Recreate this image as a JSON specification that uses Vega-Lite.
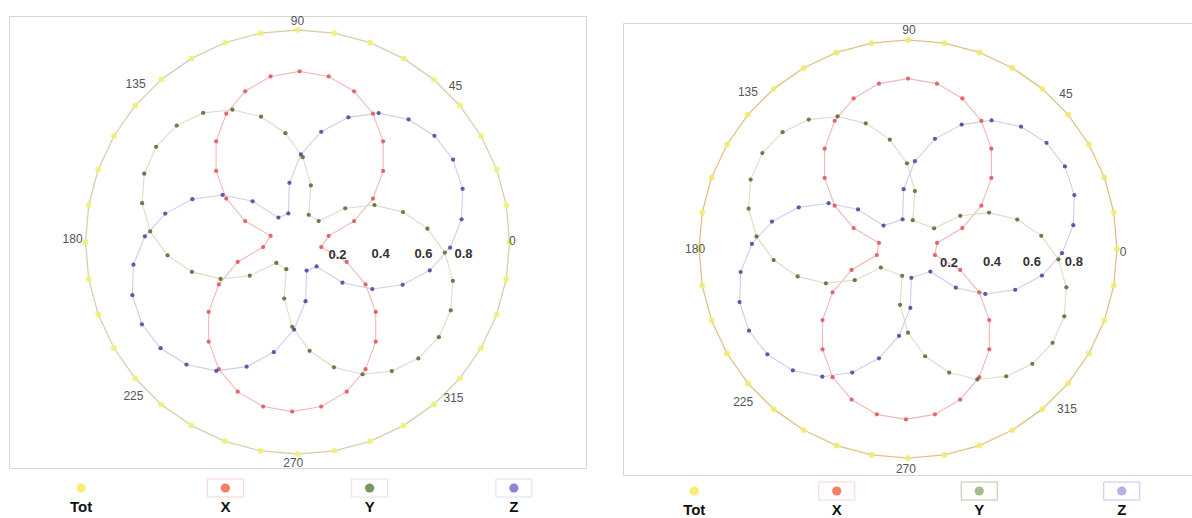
{
"$schema": "https://vega.github.io/schema/vega-lite/v6.json",
"padding": {"left": 8, "top": 14, "right": 0, "bottom": 0},
"config": {"font": "Liberation Sans", "view": {"stroke": "#d6d6d6"}},
"resolve": {"scale": {"fill": "independent", "stroke": "independent", "x": "independent", "y": "independent"}},
"datasets": {
"tot": [
{"i":0,"x":1,"y":0},{"i":1,"x":0.985,"y":0.174},{"i":2,"x":0.94,"y":0.342},{"i":3,"x":0.866,"y":0.5},{"i":4,"x":0.766,"y":0.643},{"i":5,"x":0.643,"y":0.766},{"i":6,"x":0.5,"y":0.866},{"i":7,"x":0.342,"y":0.94},{"i":8,"x":0.174,"y":0.985},{"i":9,"x":0,"y":1},{"i":10,"x":-0.174,"y":0.985},{"i":11,"x":-0.342,"y":0.94},{"i":12,"x":-0.5,"y":0.866},{"i":13,"x":-0.643,"y":0.766},{"i":14,"x":-0.766,"y":0.643},{"i":15,"x":-0.866,"y":0.5},{"i":16,"x":-0.94,"y":0.342},{"i":17,"x":-0.985,"y":0.174},{"i":18,"x":-1,"y":0},{"i":19,"x":-0.985,"y":-0.174},{"i":20,"x":-0.94,"y":-0.342},{"i":21,"x":-0.866,"y":-0.5},{"i":22,"x":-0.766,"y":-0.643},{"i":23,"x":-0.643,"y":-0.766},{"i":24,"x":-0.5,"y":-0.866},{"i":25,"x":-0.342,"y":-0.94},{"i":26,"x":-0.174,"y":-0.985},{"i":27,"x":0,"y":-1},{"i":28,"x":0.174,"y":-0.985},{"i":29,"x":0.342,"y":-0.94},{"i":30,"x":0.5,"y":-0.866},{"i":31,"x":0.643,"y":-0.766},{"i":32,"x":0.766,"y":-0.643},{"i":33,"x":0.866,"y":-0.5},{"i":34,"x":0.94,"y":-0.342},{"i":35,"x":0.985,"y":-0.174}
],
"L": [
{"s":"X","i":0,"x":0.147,"y":0.029},{"s":"X","i":1,"x":0.267,"y":0.099},{"s":"X","i":2,"x":0.356,"y":0.205},{"s":"X","i":3,"x":0.404,"y":0.335},{"s":"X","i":4,"x":0.404,"y":0.475},{"s":"X","i":5,"x":0.356,"y":0.605},{"s":"X","i":6,"x":0.267,"y":0.711},{"s":"X","i":7,"x":0.147,"y":0.781},{"s":"X","i":8,"x":0.01,"y":0.805},{"s":"X","i":9,"x":-0.127,"y":0.781},{"s":"X","i":10,"x":-0.247,"y":0.711},{"s":"X","i":11,"x":-0.336,"y":0.605},{"s":"X","i":12,"x":-0.384,"y":0.475},{"s":"X","i":13,"x":-0.384,"y":0.335},{"s":"X","i":14,"x":-0.336,"y":0.205},{"s":"X","i":15,"x":-0.247,"y":0.099},{"s":"X","i":16,"x":-0.127,"y":0.029},
{"s":"X","i":17,"x":-0.162,"y":-0.024},{"s":"X","i":18,"x":-0.282,"y":-0.094},{"s":"X","i":19,"x":-0.371,"y":-0.2},{"s":"X","i":20,"x":-0.419,"y":-0.33},{"s":"X","i":21,"x":-0.419,"y":-0.47},{"s":"X","i":22,"x":-0.371,"y":-0.6},{"s":"X","i":23,"x":-0.282,"y":-0.706},{"s":"X","i":24,"x":-0.162,"y":-0.776},{"s":"X","i":25,"x":-0.025,"y":-0.8},{"s":"X","i":26,"x":0.112,"y":-0.776},{"s":"X","i":27,"x":0.232,"y":-0.706},{"s":"X","i":28,"x":0.321,"y":-0.6},{"s":"X","i":29,"x":0.369,"y":-0.47},{"s":"X","i":30,"x":0.369,"y":-0.33},{"s":"X","i":31,"x":0.321,"y":-0.2},{"s":"X","i":32,"x":0.232,"y":-0.094},{"s":"X","i":33,"x":0.112,"y":-0.024},
{"s":"Z","i":0,"x":0.09,"y":-0.115},{"s":"Z","i":1,"x":0.212,"y":-0.192},{"s":"Z","i":2,"x":0.353,"y":-0.222},{"s":"Z","i":3,"x":0.496,"y":-0.202},{"s":"Z","i":4,"x":0.624,"y":-0.134},{"s":"Z","i":5,"x":0.72,"y":-0.027},{"s":"Z","i":6,"x":0.774,"y":0.107},{"s":"Z","i":7,"x":0.779,"y":0.251},{"s":"Z","i":8,"x":0.734,"y":0.388},{"s":"Z","i":9,"x":0.646,"y":0.501},{"s":"Z","i":10,"x":0.524,"y":0.578},{"s":"Z","i":11,"x":0.383,"y":0.608},{"s":"Z","i":12,"x":0.24,"y":0.588},{"s":"Z","i":13,"x":0.112,"y":0.52},{"s":"Z","i":14,"x":0.016,"y":0.413},{"s":"Z","i":15,"x":-0.038,"y":0.279},{"s":"Z","i":16,"x":-0.043,"y":0.135},
{"s":"Z","i":17,"x":-0.09,"y":0.115},{"s":"Z","i":18,"x":-0.212,"y":0.192},{"s":"Z","i":19,"x":-0.353,"y":0.222},{"s":"Z","i":20,"x":-0.496,"y":0.202},{"s":"Z","i":21,"x":-0.624,"y":0.134},{"s":"Z","i":22,"x":-0.72,"y":0.027},{"s":"Z","i":23,"x":-0.774,"y":-0.107},{"s":"Z","i":24,"x":-0.779,"y":-0.251},{"s":"Z","i":25,"x":-0.734,"y":-0.388},{"s":"Z","i":26,"x":-0.646,"y":-0.501},{"s":"Z","i":27,"x":-0.524,"y":-0.578},{"s":"Z","i":28,"x":-0.383,"y":-0.608},{"s":"Z","i":29,"x":-0.24,"y":-0.588},{"s":"Z","i":30,"x":-0.112,"y":-0.52},{"s":"Z","i":31,"x":-0.016,"y":-0.413},{"s":"Z","i":32,"x":0.038,"y":-0.279},{"s":"Z","i":33,"x":0.043,"y":-0.135},
{"s":"Y","i":0,"x":-0.053,"y":-0.128},{"s":"Y","i":1,"x":-0.063,"y":-0.267},{"s":"Y","i":2,"x":-0.025,"y":-0.4},{"s":"Y","i":3,"x":0.057,"y":-0.513},{"s":"Y","i":4,"x":0.172,"y":-0.591},{"s":"Y","i":5,"x":0.307,"y":-0.624},{"s":"Y","i":6,"x":0.445,"y":-0.609},{"s":"Y","i":7,"x":0.57,"y":-0.549},{"s":"Y","i":8,"x":0.667,"y":-0.449},{"s":"Y","i":9,"x":0.723,"y":-0.322},{"s":"Y","i":10,"x":0.733,"y":-0.183},{"s":"Y","i":11,"x":0.695,"y":-0.05},{"s":"Y","i":12,"x":0.613,"y":0.063},{"s":"Y","i":13,"x":0.498,"y":0.141},{"s":"Y","i":14,"x":0.363,"y":0.174},{"s":"Y","i":15,"x":0.225,"y":0.159},{"s":"Y","i":16,"x":0.1,"y":0.099},
{"s":"Y","i":17,"x":0.053,"y":0.128},{"s":"Y","i":18,"x":0.063,"y":0.267},{"s":"Y","i":19,"x":0.025,"y":0.4},{"s":"Y","i":20,"x":-0.057,"y":0.513},{"s":"Y","i":21,"x":-0.172,"y":0.591},{"s":"Y","i":22,"x":-0.307,"y":0.624},{"s":"Y","i":23,"x":-0.445,"y":0.609},{"s":"Y","i":24,"x":-0.57,"y":0.549},{"s":"Y","i":25,"x":-0.667,"y":0.449},{"s":"Y","i":26,"x":-0.723,"y":0.322},{"s":"Y","i":27,"x":-0.733,"y":0.183},{"s":"Y","i":28,"x":-0.695,"y":0.05},{"s":"Y","i":29,"x":-0.613,"y":-0.063},{"s":"Y","i":30,"x":-0.498,"y":-0.141},{"s":"Y","i":31,"x":-0.363,"y":-0.174},{"s":"Y","i":32,"x":-0.225,"y":-0.159},{"s":"Y","i":33,"x":-0.1,"y":-0.099}
],
"R": [
{"s":"X","i":0,"x":0.139,"y":0.029},{"s":"X","i":1,"x":0.26,"y":0.1},{"s":"X","i":2,"x":0.351,"y":0.207},{"s":"X","i":3,"x":0.399,"y":0.34},{"s":"X","i":4,"x":0.399,"y":0.48},{"s":"X","i":5,"x":0.351,"y":0.613},{"s":"X","i":6,"x":0.26,"y":0.72},{"s":"X","i":7,"x":0.139,"y":0.791},{"s":"X","i":8,"x":0,"y":0.815},{"s":"X","i":9,"x":-0.139,"y":0.791},{"s":"X","i":10,"x":-0.26,"y":0.72},{"s":"X","i":11,"x":-0.351,"y":0.613},{"s":"X","i":12,"x":-0.399,"y":0.48},{"s":"X","i":13,"x":-0.399,"y":0.34},{"s":"X","i":14,"x":-0.351,"y":0.207},{"s":"X","i":15,"x":-0.26,"y":0.1},{"s":"X","i":16,"x":-0.139,"y":0.029},
{"s":"X","i":17,"x":-0.149,"y":-0.029},{"s":"X","i":18,"x":-0.27,"y":-0.1},{"s":"X","i":19,"x":-0.361,"y":-0.207},{"s":"X","i":20,"x":-0.409,"y":-0.34},{"s":"X","i":21,"x":-0.409,"y":-0.48},{"s":"X","i":22,"x":-0.361,"y":-0.613},{"s":"X","i":23,"x":-0.27,"y":-0.72},{"s":"X","i":24,"x":-0.149,"y":-0.791},{"s":"X","i":25,"x":-0.01,"y":-0.815},{"s":"X","i":26,"x":0.129,"y":-0.791},{"s":"X","i":27,"x":0.25,"y":-0.72},{"s":"X","i":28,"x":0.341,"y":-0.613},{"s":"X","i":29,"x":0.389,"y":-0.48},{"s":"X","i":30,"x":0.389,"y":-0.34},{"s":"X","i":31,"x":0.341,"y":-0.207},{"s":"X","i":32,"x":0.25,"y":-0.1},{"s":"X","i":33,"x":0.129,"y":-0.029},
{"s":"Z","i":0,"x":0.107,"y":-0.108},{"s":"Z","i":1,"x":0.229,"y":-0.185},{"s":"Z","i":2,"x":0.37,"y":-0.215},{"s":"Z","i":3,"x":0.513,"y":-0.195},{"s":"Z","i":4,"x":0.641,"y":-0.127},{"s":"Z","i":5,"x":0.737,"y":-0.02},{"s":"Z","i":6,"x":0.791,"y":0.114},{"s":"Z","i":7,"x":0.796,"y":0.258},{"s":"Z","i":8,"x":0.751,"y":0.395},{"s":"Z","i":9,"x":0.663,"y":0.508},{"s":"Z","i":10,"x":0.541,"y":0.585},{"s":"Z","i":11,"x":0.4,"y":0.615},{"s":"Z","i":12,"x":0.257,"y":0.595},{"s":"Z","i":13,"x":0.129,"y":0.527},{"s":"Z","i":14,"x":0.033,"y":0.42},{"s":"Z","i":15,"x":-0.021,"y":0.286},{"s":"Z","i":16,"x":-0.026,"y":0.142},
{"s":"Z","i":17,"x":-0.117,"y":0.112},{"s":"Z","i":18,"x":-0.239,"y":0.189},{"s":"Z","i":19,"x":-0.38,"y":0.219},{"s":"Z","i":20,"x":-0.523,"y":0.199},{"s":"Z","i":21,"x":-0.651,"y":0.131},{"s":"Z","i":22,"x":-0.747,"y":0.024},{"s":"Z","i":23,"x":-0.801,"y":-0.11},{"s":"Z","i":24,"x":-0.806,"y":-0.254},{"s":"Z","i":25,"x":-0.761,"y":-0.391},{"s":"Z","i":26,"x":-0.673,"y":-0.504},{"s":"Z","i":27,"x":-0.551,"y":-0.581},{"s":"Z","i":28,"x":-0.41,"y":-0.611},{"s":"Z","i":29,"x":-0.267,"y":-0.591},{"s":"Z","i":30,"x":-0.139,"y":-0.523},{"s":"Z","i":31,"x":-0.043,"y":-0.416},{"s":"Z","i":32,"x":0.011,"y":-0.282},{"s":"Z","i":33,"x":0.016,"y":-0.138},
{"s":"Y","i":0,"x":-0.028,"y":-0.128},{"s":"Y","i":1,"x":-0.038,"y":-0.267},{"s":"Y","i":2,"x":0,"y":-0.4},{"s":"Y","i":3,"x":0.082,"y":-0.513},{"s":"Y","i":4,"x":0.197,"y":-0.591},{"s":"Y","i":5,"x":0.332,"y":-0.624},{"s":"Y","i":6,"x":0.47,"y":-0.609},{"s":"Y","i":7,"x":0.595,"y":-0.549},{"s":"Y","i":8,"x":0.692,"y":-0.449},{"s":"Y","i":9,"x":0.748,"y":-0.322},{"s":"Y","i":10,"x":0.758,"y":-0.183},{"s":"Y","i":11,"x":0.72,"y":-0.05},{"s":"Y","i":12,"x":0.638,"y":0.063},{"s":"Y","i":13,"x":0.523,"y":0.141},{"s":"Y","i":14,"x":0.388,"y":0.174},{"s":"Y","i":15,"x":0.25,"y":0.159},{"s":"Y","i":16,"x":0.125,"y":0.099},
{"s":"Y","i":17,"x":0.023,"y":0.138},{"s":"Y","i":18,"x":0.033,"y":0.277},{"s":"Y","i":19,"x":-0.005,"y":0.41},{"s":"Y","i":20,"x":-0.087,"y":0.523},{"s":"Y","i":21,"x":-0.202,"y":0.601},{"s":"Y","i":22,"x":-0.337,"y":0.634},{"s":"Y","i":23,"x":-0.475,"y":0.619},{"s":"Y","i":24,"x":-0.6,"y":0.559},{"s":"Y","i":25,"x":-0.697,"y":0.459},{"s":"Y","i":26,"x":-0.753,"y":0.332},{"s":"Y","i":27,"x":-0.763,"y":0.193},{"s":"Y","i":28,"x":-0.725,"y":0.06},{"s":"Y","i":29,"x":-0.643,"y":-0.053},{"s":"Y","i":30,"x":-0.528,"y":-0.131},{"s":"Y","i":31,"x":-0.393,"y":-0.164},{"s":"Y","i":32,"x":-0.255,"y":-0.149},{"s":"Y","i":33,"x":-0.13,"y":-0.089}
],
"labL": [
{"k":"a","t":"90","x":0,"y":1.043},{"k":"a","t":"45","x":0.745,"y":0.736},{"k":"a","t":"0","x":1.014,"y":0.005},{"k":"a","t":"135","x":-0.764,"y":0.745},{"k":"a","t":"180","x":-1.061,"y":0.014},{"k":"a","t":"225","x":-0.774,"y":-0.726},{"k":"a","t":"270","x":-0.02,"y":-1.042},{"k":"a","t":"315","x":0.736,"y":-0.736},
{"k":"r","t":"0.2","x":0.189,"y":-0.061},{"k":"r","t":"0.4","x":0.392,"y":-0.057},{"k":"r","t":"0.6","x":0.594,"y":-0.057},{"k":"r","t":"0.8","x":0.783,"y":-0.057}
],
"labR": [
{"k":"a","t":"90","x":0.005,"y":1.048},{"k":"a","t":"45","x":0.756,"y":0.742},{"k":"a","t":"0","x":1.029,"y":-0.014},{"k":"a","t":"135","x":-0.766,"y":0.751},{"k":"a","t":"180","x":-1.019,"y":0},{"k":"a","t":"225","x":-0.789,"y":-0.732},{"k":"a","t":"270","x":-0.01,"y":-1.053},{"k":"a","t":"315","x":0.761,"y":-0.766},
{"k":"r","t":"0.2","x":0.196,"y":-0.067},{"k":"r","t":"0.4","x":0.402,"y":-0.062},{"k":"r","t":"0.6","x":0.593,"y":-0.062},{"k":"r","t":"0.8","x":0.794,"y":-0.062}
],
"leg": [{"s":"Tot"},{"s":"X"},{"s":"Y"},{"s":"Z"}]
},
"spacing": 35,
"hconcat": [
{
"spacing": 0,
"resolve": {"scale": {"fill": "independent", "stroke": "independent", "x": "independent", "y": "independent"}},
"vconcat": [
{
"width": 577, "height": 452,
"encoding": {
"x": {"field":"x","type":"quantitative","scale":{"domain":[-1.361,1.361],"nice":false,"zero":false},"axis":null},
"y": {"field":"y","type":"quantitative","scale":{"domain":[-1.066,1.066],"nice":false,"zero":false},"axis":null}
},
"layer": [
{"data":{"name":"tot"},"mark":{"type":"line","interpolate":"linear-closed","stroke":"#d4d1ae","strokeWidth":1.3},"encoding":{"order":{"field":"i","type":"quantitative"}}},
{"data":{"name":"tot"},"mark":{"type":"point","filled":true,"size":34,"color":"#f2ef78","opacity":0.9}},
{"data":{"name":"L"},"mark":{"type":"line","interpolate":"linear-closed","strokeWidth":1.1},"encoding":{"order":{"field":"i","type":"quantitative"},"detail":{"field":"s"},"stroke":{"field":"s","type":"nominal","scale":{"domain":["X","Y","Z"],"range":["#f4b7ba","#d9dec9","#cdcded"]},"legend":null}}},
{"data":{"name":"L"},"mark":{"type":"point","filled":true,"size":18,"opacity":0.9,"strokeWidth":0},"encoding":{"fill":{"field":"s","type":"nominal","scale":{"domain":["X","Y","Z"],"range":["#e2585f","#5e6f35","#4f4a9e"]},"legend":null}}},
{"data":{"name":"labL"},"transform":[{"filter":"datum.k == 'a'"}],"mark":{"type":"text","fontSize":12,"color":"#555555"},"encoding":{"text":{"field":"t"}}},
{"data":{"name":"labL"},"transform":[{"filter":"datum.k == 'r'"}],"mark":{"type":"text","fontSize":13,"fontWeight":"bold","color":"#333333"},"encoding":{"text":{"field":"t"}}}
]
},
{
"width": 577, "height": 36, "view": {"stroke": null},
"data": {"name":"leg"},
"encoding": {"x": {"field":"s","type":"nominal","scale":{"domain":["Tot","X","Y","Z"]},"axis":null}},
"layer": [
{"transform":[{"filter":"datum.s != 'Tot'"}],"mark":{"type":"point","shape":"M-1,-0.5H1V0.5H-1Z","size":1296,"filled":false,"strokeWidth":1},"encoding":{"stroke":{"field":"s","type":"nominal","scale":{"domain":["X","Y","Z"],"range":["#f6c4c4","#d8dcc4","#d0d0ee"]},"legend":null}}},
{"mark":{"type":"point","filled":true,"size":85,"strokeWidth":0},"encoding":{"fill":{"field":"s","type":"nominal","scale":{"domain":["Tot","X","Y","Z"],"range":["#f5e43c","#f04a28","#3c6a1c","#5a4ec8"]},"legend":null}}},
{"mark":{"type":"text","dy":19,"fontSize":15,"fontWeight":"bold","color":"#111111"},"encoding":{"text":{"field":"s"}}}
]
}
]
},
{
"spacing": 0,
"resolve": {"scale": {"fill": "independent", "stroke": "independent", "x": "independent", "y": "independent"}},
"vconcat": [
{"width": 570, "height": 6, "view": {"stroke": null}, "data": {"values": [{"s":"spacer"}]}, "mark": {"type":"point","opacity":0}},
{
"width": 570, "height": 452,
"encoding": {
"x": {"field":"x","type":"quantitative","scale":{"domain":[-1.364,1.364],"nice":false,"zero":false},"axis":null},
"y": {"field":"y","type":"quantitative","scale":{"domain":[-1.081,1.081],"nice":false,"zero":false},"axis":null}
},
"layer": [
{"data":{"name":"tot"},"mark":{"type":"line","interpolate":"linear-closed","stroke":"#dcc484","strokeWidth":1.3},"encoding":{"order":{"field":"i","type":"quantitative"}}},
{"data":{"name":"tot"},"mark":{"type":"point","filled":true,"size":34,"color":"#f2ea70","opacity":0.9}},
{"data":{"name":"R"},"mark":{"type":"line","interpolate":"linear-closed","strokeWidth":1.1},"encoding":{"order":{"field":"i","type":"quantitative"},"detail":{"field":"s"},"stroke":{"field":"s","type":"nominal","scale":{"domain":["X","Y","Z"],"range":["#f4b7ba","#d9dec9","#cdcded"]},"legend":null}}},
{"data":{"name":"R"},"mark":{"type":"point","filled":true,"size":18,"opacity":0.9,"strokeWidth":0},"encoding":{"fill":{"field":"s","type":"nominal","scale":{"domain":["X","Y","Z"],"range":["#e2585f","#5e6f35","#4f4a9e"]},"legend":null}}},
{"data":{"name":"labR"},"transform":[{"filter":"datum.k == 'a'"}],"mark":{"type":"text","fontSize":12,"color":"#555555"},"encoding":{"text":{"field":"t"}}},
{"data":{"name":"labR"},"transform":[{"filter":"datum.k == 'r'"}],"mark":{"type":"text","fontSize":13,"fontWeight":"bold","color":"#333333"},"encoding":{"text":{"field":"t"}}}
]
},
{
"width": 570, "height": 30, "view": {"stroke": null},
"data": {"name":"leg"},
"encoding": {"x": {"field":"s","type":"nominal","scale":{"domain":["Tot","X","Y","Z"]},"axis":null}},
"layer": [
{"transform":[{"filter":"datum.s != 'Tot'"}],"mark":{"type":"point","shape":"M-1,-0.5H1V0.5H-1Z","size":1296,"filled":false,"strokeWidth":1},"encoding":{"stroke":{"field":"s","type":"nominal","scale":{"domain":["X","Y","Z"],"range":["#f6c4c4","#9cb47c","#b0a8e8"]},"legend":null}}},
{"mark":{"type":"point","filled":true,"size":85,"strokeWidth":0},"encoding":{"fill":{"field":"s","type":"nominal","scale":{"domain":["Tot","X","Y","Z"],"range":["#f5e43c","#f04a28","#7ea05a","#9a8ee0"]},"legend":null}}},
{"mark":{"type":"text","dy":19,"fontSize":15,"fontWeight":"bold","color":"#111111"},"encoding":{"text":{"field":"s"}}}
]
}
]
}
]
}
